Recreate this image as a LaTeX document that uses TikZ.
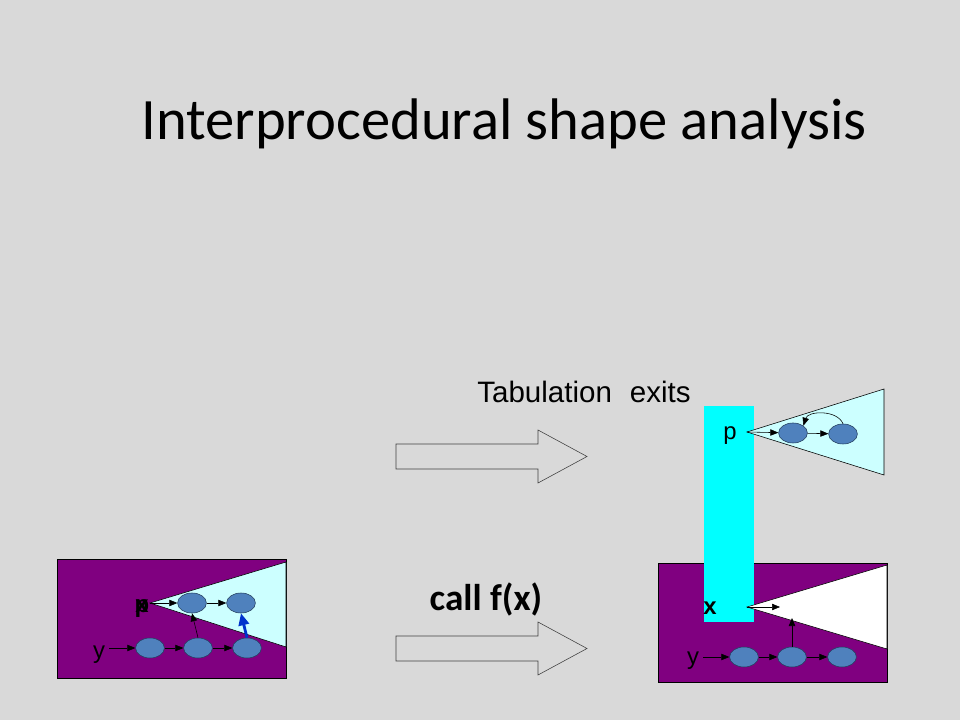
\documentclass[tikz,border=0pt]{standalone}
\usepackage{fontspec}
\setmainfont{Carlito}
\newfontfamily\arialfont{Liberation Sans}
\usetikzlibrary{shapes,arrows,positioning,calc,arrows.meta}

\definecolor{slidegray}{HTML}{D9D9D9}
\definecolor{heapviolet}{HTML}{800080}
\definecolor{pale}{HTML}{CCFFFF}
\definecolor{aqua}{HTML}{00FFFF}
\definecolor{cellblue}{HTML}{4F81BD}
\definecolor{cellline}{HTML}{243F60}
\definecolor{edgeblue}{HTML}{0033CC}

\tikzset{
    cell/.style={ellipse, draw=cellline, fill=cellblue, minimum width=0.72cm, minimum height=0.5cm, inner sep=0pt},
    ptr/.style={-{Triangle[length=2mm,width=1.6mm]}, black, thin},
    var/.style={font=\arialfont\fontsize{17}{19}\selectfont, anchor=base, inner sep=0pt},
    boldvar/.style={var, font=\arialfont\bfseries\fontsize{17}{19}\selectfont},
    blockarrow/.style={draw=black!75, thin}
}

\begin{document}
\begin{tikzpicture}[x=0.025cm, y=-0.025cm]
    \fill[slidegray] (0,0) rectangle (960,720);
    \useasboundingbox (0,0) rectangle (960,720);

    \node[anchor=base] (title) at (504,140) {\fontsize{41.7}{48}\selectfont Interprocedural shape analysis};
    \node[anchor=base, font=\arialfont\fontsize{21}{24}\selectfont] (tab) at (584,403) {Tabulation\hspace{0.33em} exits};
    \node[anchor=base, font=\bfseries\fontsize{26.5}{30}\selectfont] (call) at (486,610) {call f(x)};

    % Block arrows
    \foreach \yc in {456.5,648.5}
        \draw[blockarrow] (396,\yc-12.5) -- (538,\yc-12.5) -- (538,\yc-26.5) -- (587,\yc)
            -- (538,\yc+26.5) -- (538,\yc+12.5) -- (396,\yc+12.5) -- cycle;

    % Heap before the call
    \draw[fill=heapviolet] (57,559) rectangle (286,678);
    \draw[fill=pale] (150,603) coordinate (lapex) -- (286,562) -- (286,647) -- cycle;
    \node[cell] (la) at (192,603) {};
    \node[cell] (lb) at (241,603) {};
    \node[cell] (lc) at (150,648) {};
    \node[cell] (ld) at (198,648) {};
    \node[cell] (le) at (247,648) {};
    \node[boldvar] (lp) at (142,612) {p};
    \node[boldvar] (lx) at (142,612) {x};
    \node[var] (ly) at (99,658) {y};
    \draw[ptr] (lapex) -- (la);
    \draw[ptr] (la) -- (lb);
    \draw[ptr] (ly.east |- lc) ++(4,0) -- (lc);
    \draw[ptr] (lc) -- (ld);
    \draw[ptr] (ld) -- (le);
    \draw[ptr] (ld.north) -- (la.south);
    \draw[-{Triangle[length=3mm,width=2.6mm]}, edgeblue, line width=2pt] (le.north) -- (lb.south);

    % Heap after the call
    \draw[fill=heapviolet] (658,563) rectangle (887,682);
    \fill[aqua] (704,406) rectangle (754,622);
    \draw[fill=white] (747,607) coordinate (rapex) -- (887,565) -- (887,649) -- cycle;
    \node[cell] (ra) at (744,657) {};
    \node[cell] (rb) at (792,657) {};
    \node[cell] (rc) at (842,657) {};
    \coordinate (rend) at (780,607);
    \coordinate (rup) at (792,618);
    \node[boldvar] (rx) at (710,614) {x};
    \node[var] (ry) at (693,664) {y};
    \draw[ptr] (rapex) -- (rend);
    \draw[ptr] (ry.east |- ra) ++(4,0) -- (ra);
    \draw[ptr] (ra) -- (rb);
    \draw[ptr] (rb) -- (rc);
    \draw[ptr] (rb.north) -- (rup);

    % Tabulated exit
    \draw[fill=pale] (747,432) coordinate (tapex) -- (884,389) -- (884,475) -- cycle;
    \node[cell] (ta) at (793,433) {};
    \node[cell] (tb) at (843,434) {};
    \node[var] (tp) at (730,440) {p};
    \draw[ptr] (tapex) -- (ta);
    \draw[ptr] (ta) -- (tb);
    \draw[ptr] (tb.north) to[bend right=70] (ta.north east);
\end{tikzpicture}
\end{document}
